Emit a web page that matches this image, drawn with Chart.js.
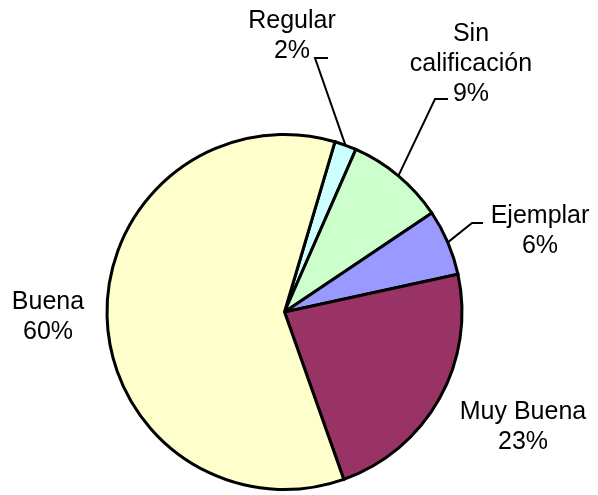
<!DOCTYPE html>
<html lang="es">
<head>
  <meta charset="UTF-8">
  <title>Calificación</title>
  <style>
    body { margin: 0; background: #fff; }
    #wrap { width: 598px; height: 495px; }
  </style>
</head>
<body>
  <div id="wrap">
    <canvas id="myChart" width="598" height="495"></canvas>
  </div>
  <script src="https://cdn.jsdelivr.net/npm/chart.js"></script>
  <script>
    // data
    const categories = ['Regular', 'Sin calificación', 'Ejemplar', 'Muy Buena', 'Buena'];
    const percents = [2, 9, 6, 23, 60];
    const colors = ['#CCFFFF', '#CCFFCC', '#9999FF', '#993366', '#FFFFCC'];

    // where each label sits (baselines per line) and its leader line, if any
    const labelLayout = [
      { x: 292, y: 28, wrap: false, leader: [315, 58, 328] },
      { x: 471, y: 41, wrap: true, leader: [435, 99, 448] },
      { x: 540, y: 223, wrap: false, leader: [472, 223, 483] },
      { x: 523, y: 419, wrap: false, leader: null },
      { x: 48, y: 309, wrap: false, leader: null }
    ];
    const lineH = 30;

    const labelPlugin = {
      id: 'pieLabels',
      afterDraw(chart) {
        const ctx = chart.ctx;
        const arcs = chart.getDatasetMeta(0).data;
        ctx.save();
        ctx.fillStyle = '#000';
        ctx.strokeStyle = '#000';
        ctx.lineWidth = 2;
        ctx.font = '25px "Liberation Sans", Arial, sans-serif';
        ctx.textAlign = 'center';
        ctx.textBaseline = 'alphabetic';
        arcs.forEach((arc, i) => {
          const lay = labelLayout[i];
          let lines = lay.wrap ? categories[i].split(' ') : [categories[i]];
          lines.push(percents[i] + '%');
          lines.forEach((t, k) => ctx.fillText(t, lay.x, lay.y + k * lineH));
          if (lay.leader) {
            const p = arc.getProps(['x', 'y', 'startAngle', 'endAngle', 'outerRadius'], true);
            const mid = (p.startAngle + p.endAngle) / 2;
            const ex = p.x + Math.cos(mid) * p.outerRadius;
            const ey = p.y + Math.sin(mid) * p.outerRadius;
            const [lx, ly, rx] = lay.leader;
            ctx.beginPath();
            ctx.moveTo(rx, ly);
            ctx.lineTo(lx, ly);
            ctx.lineTo(ex, ey);
            ctx.stroke();
          }
        });
        ctx.restore();
      }
    };

    const ctx = document.getElementById('myChart');
    new Chart(ctx, {
      type: 'pie',
      data: {
        labels: categories,
        datasets: [{
          data: percents,
          backgroundColor: colors,
          borderColor: '#000',
          borderWidth: 3,
          borderJoinStyle: 'miter',
          hoverOffset: 0
        }]
      },
      options: {
        responsive: false,
        devicePixelRatio: 1,
        animation: false,
        rotation: 16.5,
        layout: { padding: { left: 105.5, right: 134.5, top: 133, bottom: 4 } },
        plugins: {
          legend: { display: false },
          tooltip: { enabled: false }
        }
      },
      plugins: [labelPlugin]
    });
  </script>
</body>
</html>
